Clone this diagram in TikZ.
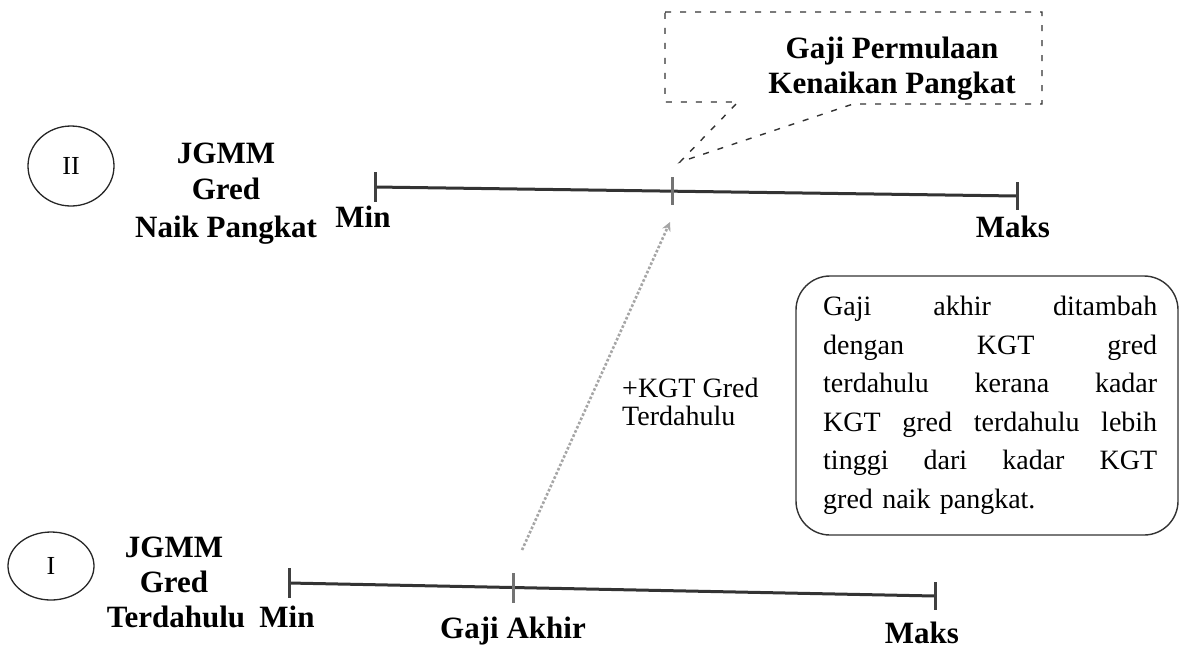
\documentclass[tikz,border=0pt]{standalone}
\usepackage{fontspec}
\setmainfont{Liberation Serif}
\usetikzlibrary{arrows.meta,shapes.geometric}
\newcommand{\jline}[1]{\makebox[334pt][l]{#1}}
\begin{document}
\begin{tikzpicture}[x=1pt,y=-1pt,
  lbl/.style={font=\fontsize{31}{38}\selectfont\bfseries, inner sep=0pt, anchor=base},
  txt/.style={font=\fontsize{28}{38.5}\selectfont, inner sep=0pt},
  axis/.style={line width=3pt, draw=black!80},
  tickmark/.style={line width=3pt, draw=black!75},
  ring/.style={draw=black!85, ellipse, line width=1.3pt, inner sep=0pt, font=\fontsize{26}{30}\selectfont},
  callout/.style={draw=black!80, line width=1.4pt, dash pattern=on 6pt off 9pt},
  notebox/.style={draw=black!80, line width=1.4pt, rounded corners=34pt},
  link/.style={draw=black!35, line width=2.6pt, dotted, -{Stealth[length=9pt,width=9pt]}}
]
\useasboundingbox (0,0) rectangle (1182,649);

% ---------- level II ----------
\node[ring, minimum width=86pt, minimum height=80pt] (c2) at (71,166) {II};
\node[lbl] (j2a) at (226,163) {JGMM};
\node[lbl] (j2b) at (226,199) {Gred};
\node[lbl] (j2c) at (226,237) {Naik Pangkat};

\coordinate (a2) at (375,187);
\coordinate (m2) at (672,191);
\coordinate (b2) at (1017,196);
\draw[axis] (a2) -- (b2);
\draw[tickmark] ([yshift=15pt]a2) -- ([yshift=-15pt]a2);
\draw[tickmark,draw=black!55] ([yshift=14pt]m2) -- ([yshift=-14pt]m2);
\draw[tickmark] ([yshift=14pt]b2) -- ([yshift=-14pt]b2);
\node[lbl] (min2) at (363,227) {Min};
\node[lbl] (max2) at (1013,237) {Maks};

% callout
\coordinate (tip) at (680,162);
\draw[callout] (665,12) -- (1042,12) -- (1042,104) -- (853,104) -- (tip) -- (738,102) -- (665,102) -- cycle;
\node[lbl] (cp1) at (892,58) {Gaji Permulaan};
\node[lbl] (cp2) at (892,93) {Kenaikan Pangkat};

% ---------- level I ----------
\node[ring, minimum width=86pt, minimum height=68pt] (c1) at (51,566) {I};
\node[lbl] (j1a) at (174,557) {JGMM};
\node[lbl] (j1b) at (174,592) {Gred};
\node[lbl] (j1c) at (176,627) {Terdahulu};

\coordinate (a1) at (289,583);
\coordinate (m1) at (513,588);
\coordinate (b1) at (935,596);
\draw[axis] (a1) -- (b1);
\draw[tickmark] ([yshift=15pt]a1) -- ([yshift=-15pt]a1);
\draw[tickmark,draw=black!55] ([yshift=15pt]m1) -- ([yshift=-15pt]m1);
\draw[tickmark] ([yshift=14pt]b1) -- ([yshift=-14pt]b1);
\node[lbl] (min1) at (287,627) {Min};
\node[lbl] (ga) at (513,638) {Gaji Akhir};
\node[lbl] (max1) at (922,643) {Maks};

% dotted link
\coordinate (ls) at (522,550);
\coordinate (le) at (670,222);
\draw[link] (ls) -- (le);
\node[txt, anchor=base west] (k1) at (622,397) {+KGT Gred};
\node[txt, anchor=base west] (k2) at (622,425) {Terdahulu};

% note box
\node[notebox, minimum width=382pt, minimum height=259pt] (note) at (987,405.5) {};
\node[txt, anchor=north west, text width=334pt, align=left] (notetxt) at (823,296) {%
\jline{Gaji\hfill akhir\hfill ditambah}\\
\jline{dengan\hfill KGT\hfill gred}\\
\jline{terdahulu\hfill kerana\hfill kadar}\\
\jline{KGT\hfill gred\hfill terdahulu\hfill lebih}\\
\jline{tinggi\hfill dari\hfill kadar\hfill KGT}\\
gred naik pangkat.};
\end{tikzpicture}
\end{document}
